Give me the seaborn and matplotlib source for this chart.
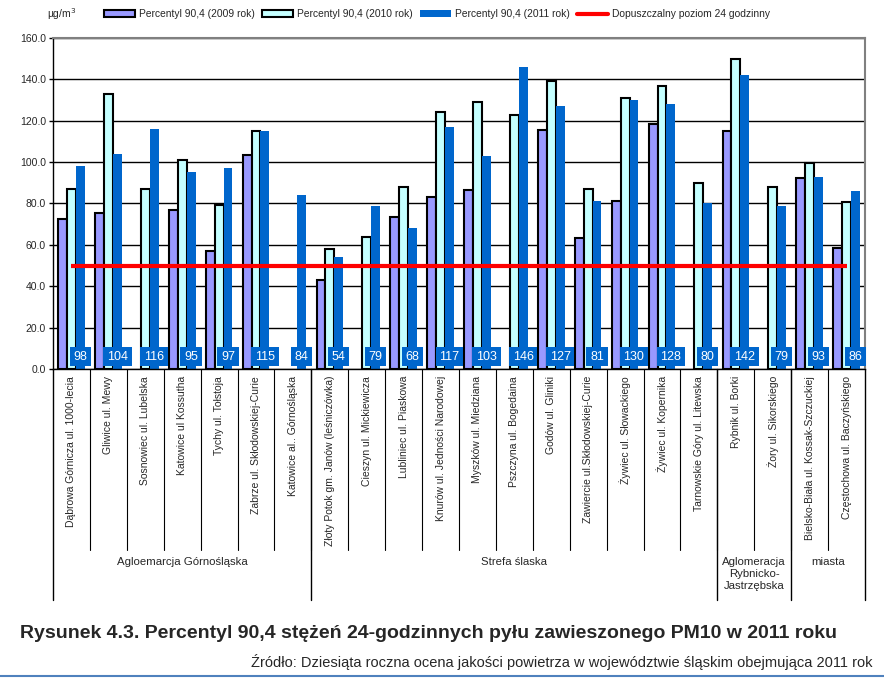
import numpy as np
import pandas as pd
import seaborn as sns
import matplotlib.pyplot as plt
from matplotlib.patches import Patch
from matplotlib.lines import Line2D


stations = [
    'Dąbrowa Górnicza ul. 1000-lecia', 'Gliwice ul. Mewy', 'Sosnowiec ul. Lubelska',
    'Katowice ul Kossutha', 'Tychy ul. Tołstoja', 'Zabrze ul. Skłodowskiej-Curie',
    'Katowice al.. Górnośląska', 'Złoty Potok gm. Janów (leśniczówka)', 'Cieszyn ul. Mickiewicza',
    'Lubliniec ul. Piaskowa', 'Knurów ul. Jedności Narodowej', 'Myszków ul. Miedziana',
    'Pszczyna ul. Bogedaina', 'Godów ul. Gliniki', 'Zawiercie ul.Skłodowskiej-Curie',
    'Żywiec ul. Słowackiego', 'Żywiec ul. Kopernika', 'Tarnowskie Góry ul. Litewska',
    'Rybnik ul. Borki', 'Żory ul. Sikorskiego', 'Bielsko-Biała ul. Kossak-Szczuckiej',
    'Częstochowa ul. Baczyńskiego',
]
p2009 = [72.5, 75.5, np.nan, 77, 57, 103.5, np.nan, 43, np.nan, 73.5, 83, 86.5,
         np.nan, 115.5, 63.5, 81, 118.5, np.nan, 115, np.nan, 92.5, 58.5]
p2010 = [87, 133, 87, 101, 79.5, 115, np.nan, 58, 64, 88, 124, 129,
         123, 139, 87, 131, 137, 90, 150, 88, 99.5, 80.5]
p2011 = [98, 104, 116, 95, 97, 115, 84, 54, 79, 68, 117, 103,
         146, 127, 81, 130, 128, 80, 142, 79, 93, 86]
series = ['Percentyl 90,4 (2009 rok)', 'Percentyl 90,4 (2010 rok)', 'Percentyl 90,4 (2011 rok)']
limit_label = 'Dopuszczalny poziom 24 godzinny'
limit = 50

groups = ['Agloemarcja Górnośląska', 'Strefa ślaska', 'Aglomeracja\nRybnicko-\nJastrzębska', 'miasta']
group_sizes = [7, 11, 2, 2]

colors = ['#9999ff', '#c4ffff', '#0066cc']

df = pd.DataFrame({'stacja': stations * 3,
                   'seria': np.repeat(series, len(stations)),
                   'wartosc': p2009 + p2010 + p2011})

sns.set_style('white')
plt.rcParams['font.family'] = ['Liberation Sans', 'DejaVu Sans']

fig = plt.figure(figsize=(8.84, 6.78), dpi=100)
ax = fig.add_axes([0.060, 0.4558, 0.9185, 0.4882])

sns.barplot(data=df, x='stacja', y='wartosc', hue='seria', hue_order=series,
            order=stations, palette=colors, width=0.72, gap=0, ax=ax,
            legend=False, saturation=1, errorbar=None)

for cont in ax.containers[:2]:
    for p in cont:
        p.set_edgecolor('black')
        p.set_linewidth(1.5)
for p in ax.containers[2]:
    p.set_edgecolor('none')

ax.hlines(limit, 0, len(stations) - 1, color='#ff0000', lw=3, zorder=5)

# blue value boxes at the 2011 bars
for p in ax.containers[2]:
    xc = p.get_x() + p.get_width() / 2
    ax.text(xc, 6.0, f'{p.get_height():.0f}', ha='center', va='center', color='white',
            fontsize=9, zorder=6,
            bbox=dict(boxstyle='square,pad=0.3', fc='#0066cc', ec='none'))

ax.set_ylim(0, 160)
ax.set_xlim(-0.5, len(stations) - 0.5)
ax.set_yticks(range(0, 161, 20))
ax.set_yticklabels([f'{v:.1f}' for v in range(0, 161, 20)], fontsize=7.5)
ax.yaxis.grid(True, color='black', lw=1)
ax.set_axisbelow(True)
ax.tick_params(axis='y', left=True, length=3, width=1, color='black', pad=2)
ax.tick_params(axis='x', length=0, pad=5)
ax.set_xticks(range(len(stations)))
ax.set_xticklabels(stations, rotation=90, fontsize=7.5)
ax.set_xlabel('')
ax.set_ylabel('')
for s in ['top', 'right']:
    ax.spines[s].set_color('#808080')
    ax.spines[s].set_linewidth(1.5)
for s in ['left', 'bottom']:
    ax.spines[s].set_color('black')
    ax.spines[s].set_linewidth(1)

# table lines under the axis
tr = ax.get_xaxis_transform()
for k in range(1, len(stations)):
    ax.plot([k - 0.5, k - 0.5], [0, -0.547], transform=tr, color='black', lw=0.8, clip_on=False)
edges = np.concatenate([[0], np.cumsum(group_sizes)]) - 0.5
for e in edges:
    ax.plot([e, e], [0, -0.698], transform=tr, color='black', lw=1, clip_on=False)
for g, a, b in zip(groups, edges[:-1], edges[1:]):
    ax.text((a + b) / 2, -0.568, g, transform=tr, ha='center', va='top', fontsize=8.2,
            linespacing=1.25)

handles = [Patch(fc=colors[0], ec='black', lw=1.5), Patch(fc=colors[1], ec='black', lw=1.5),
           Patch(fc=colors[2], ec='none'), Line2D([], [], color='#ff0000', lw=3)]
fig.legend(handles, series + [limit_label], loc='center', bbox_to_anchor=(0.494, 0.979),
           ncol=4, frameon=False, fontsize=7.4, handlelength=3, handletextpad=0.4,
           columnspacing=0.7, handleheight=0.6)
fig.text(0.053, 0.979, 'µg/m$^3$', fontsize=7.5, va='center')

fig.text(0.023, 1 - 633 / 678, 'Rysunek 4.3. Percentyl 90,4 stężeń 24-godzinnych pyłu zawieszonego PM10 w 2011 roku',
         fontsize=14, fontweight='bold', va='center')
fig.text(0.987, 1 - 662 / 678, 'Źródło: Dziesiąta roczna ocena jakości powietrza w województwie śląskim obejmująca 2011 rok',
         fontsize=10.5, ha='right', va='center')
fig.add_artist(Line2D([0, 1], [0.003, 0.003], color='#4f81bd', lw=1.5))

fig.savefig('out.png', dpi=100)
